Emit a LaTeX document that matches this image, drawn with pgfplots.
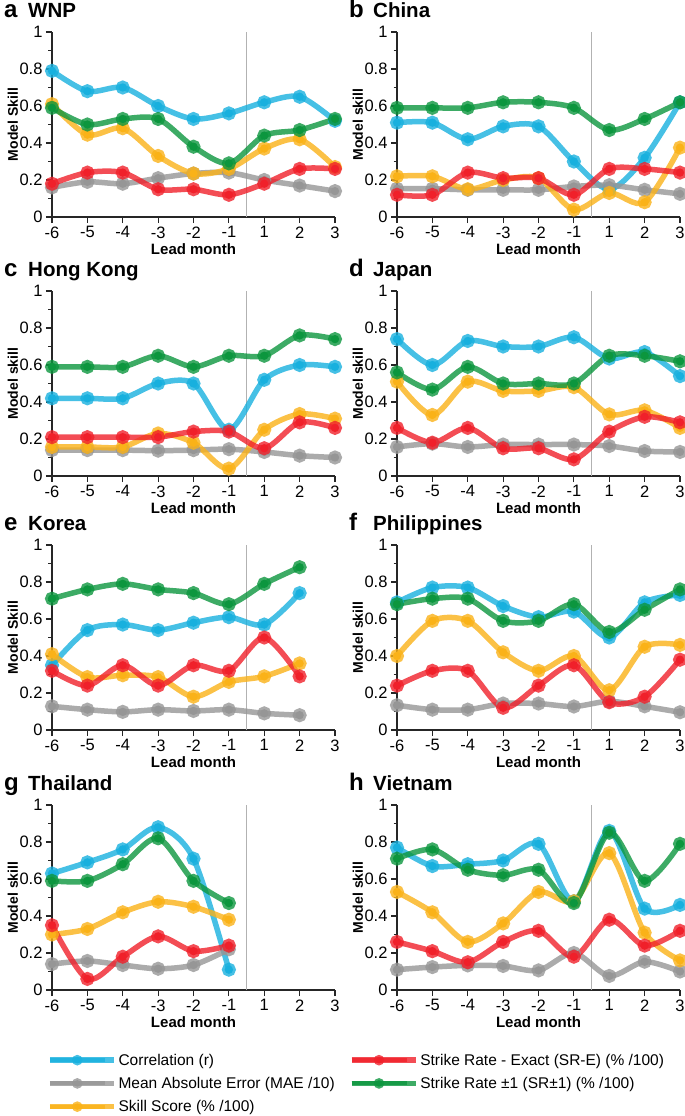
\documentclass[border=0pt]{standalone}
\usepackage{fontspec}
\setmainfont{Liberation Sans}
\usepackage{pgfplots}
\usepackage{pgfplotstable}
\pgfplotsset{compat=1.18}

\definecolor{ccorr}{RGB}{24,176,222}
\definecolor{cmae}{RGB}{150,150,150}
\definecolor{css}{RGB}{250,178,24}
\definecolor{csre}{RGB}{240,32,42}
\definecolor{csr1}{RGB}{12,150,62}

\pgfplotstableread{
x corr mae ss sre sr1
0 0.79 0.16 0.61 0.18 0.59
1 0.68 0.19 0.445 0.24 0.50
2 0.70 0.18 0.48 0.24 0.53
3 0.60 0.21 0.33 0.15 0.53
4 0.53 0.235 0.235 0.15 0.38
5 0.56 0.24 0.26 0.12 0.29
6 0.62 0.20 0.37 0.18 0.44
7 0.65 0.17 0.42 0.26 0.47
8 0.52 0.14 0.27 0.26 0.53
}\tWNP
\pgfplotstableread{
x corr mae ss sre sr1
0 0.51 0.153 0.22 0.12 0.59
1 0.51 0.153 0.22 0.12 0.59
2 0.42 0.147 0.15 0.24 0.59
3 0.49 0.147 0.20 0.21 0.62
4 0.49 0.147 0.21 0.21 0.62
5 0.30 0.165 0.04 0.12 0.59
6 0.15 0.172 0.13 0.26 0.47
7 0.32 0.147 0.08 0.26 0.53
8 0.62 0.125 0.375 0.24 0.62
}\tChina
\pgfplotstableread{
x corr mae ss sre sr1
0 0.42 0.14 0.157 0.21 0.59
1 0.42 0.14 0.157 0.21 0.59
2 0.42 0.14 0.157 0.21 0.59
3 0.50 0.137 0.23 0.21 0.65
4 0.50 0.14 0.18 0.24 0.59
5 0.25 0.145 0.04 0.24 0.65
6 0.52 0.13 0.25 0.15 0.65
7 0.60 0.11 0.335 0.29 0.76
8 0.59 0.10 0.31 0.26 0.74
}\tHK
\pgfplotstableread{
x corr mae ss sre sr1
0 0.74 0.157 0.51 0.26 0.56
1 0.60 0.175 0.33 0.18 0.467
2 0.73 0.157 0.51 0.26 0.59
3 0.70 0.17 0.46 0.15 0.50
4 0.70 0.17 0.46 0.15 0.50
5 0.75 0.17 0.48 0.09 0.50
6 0.635 0.162 0.333 0.24 0.65
7 0.67 0.135 0.355 0.32 0.65
8 0.54 0.13 0.26 0.29 0.62
}\tJapan
\pgfplotstableread{
x corr mae ss sre sr1
0 0.35 0.128 0.41 0.32 0.71
1 0.54 0.11 0.286 0.24 0.76
2 0.57 0.098 0.296 0.35 0.79
3 0.54 0.11 0.286 0.24 0.76
4 0.58 0.103 0.18 0.35 0.74
5 0.61 0.11 0.26 0.32 0.68
6 0.57 0.09 0.29 0.50 0.79
7 0.74 0.08 0.36 0.29 0.88
}\tKorea
\pgfplotstableread{
x corr mae ss sre sr1
0 0.69 0.134 0.40 0.24 0.68
1 0.77 0.11 0.59 0.32 0.71
2 0.77 0.11 0.59 0.32 0.71
3 0.67 0.143 0.42 0.12 0.59
4 0.61 0.143 0.32 0.24 0.59
5 0.64 0.127 0.40 0.35 0.68
6 0.50 0.155 0.215 0.15 0.53
7 0.69 0.128 0.45 0.18 0.65
8 0.73 0.096 0.46 0.38 0.76
}\tPhil
\pgfplotstableread{
x corr mae ss sre sr1
0 0.63 0.14 0.30 0.35 0.59
1 0.69 0.157 0.33 0.06 0.59
2 0.76 0.135 0.42 0.18 0.68
3 0.88 0.115 0.477 0.29 0.82
4 0.71 0.135 0.45 0.21 0.59
5 0.11 0.22 0.38 0.24 0.47
}\tThai
\pgfplotstableread{
x corr mae ss sre sr1
0 0.77 0.11 0.53 0.26 0.71
1 0.67 0.124 0.42 0.21 0.76
2 0.68 0.133 0.26 0.15 0.65
3 0.70 0.13 0.36 0.26 0.62
4 0.79 0.106 0.53 0.32 0.65
5 0.48 0.20 0.48 0.18 0.47
6 0.86 0.076 0.74 0.38 0.85
7 0.44 0.153 0.31 0.24 0.59
8 0.46 0.10 0.16 0.32 0.79
}\tViet

\pgfplotsset{
 ser/.style={color=#1, smooth, tension=0.5, line width=5.5pt, draw opacity=0.8,
   mark=*, mark size=4.2pt, mark options={solid, draw=none, fill=#1, fill opacity=1}},
 base/.style={scale only axis, width=283pt, height=185pt, anchor=south west,
   xmin=0, xmax=8, ymin=0, ymax=1, clip=false,
   axis lines=left, axis line style={-, line width=1.2pt, black!85},
   xtick={0,...,8}, xticklabels={-6,-5,-4,-3,-2,-1,1,2,3},
   ytick={0,0.2,0.4,0.6,0.8,1}, yticklabels={0,0.2,0.4,0.6,0.8,1},
   minor ytick={0.1,0.3,0.5,0.7,0.9},
   tick align=outside, major tick length=6pt, minor tick length=3.5pt,
   tick style={line width=1.2pt, black!85},
   /pgf/number format/assume math mode=true,
   tick label style={font=\fontsize{16.5}{18}\selectfont},
   xlabel={Lead month},
   xlabel style={font=\bfseries\fontsize{15}{17}\selectfont, at={(axis description cs:0.5,-0.172)}, anchor=center},
   ylabel style={font=\bfseries\fontsize{14}{16}\selectfont, at={(axis description cs:-0.138,0.5)}, anchor=center, rotate=0},
 },
}

\newcommand\panel[6]{%
\begin{axis}[base, at={(#1pt,-#2pt)}, ylabel={#5}]
\draw[line width=1pt, black!30] (axis cs:5.5,0) -- (axis cs:5.5,1);
\addplot[ser=ccorr] table[x=x,y=corr]{#6};
\addplot[ser=cmae] table[x=x,y=mae]{#6};
\addplot[ser=css] table[x=x,y=ss]{#6};
\addplot[ser=csre] table[x=x,y=sre]{#6};
\addplot[ser=csr1] table[x=x,y=sr1]{#6};
\node[anchor=base west, inner sep=0pt, xshift=-48pt, yshift=15pt, font=\bfseries\fontsize{24}{26}\selectfont] at (rel axis cs:0,1) {#3};
\node[anchor=base west, inner sep=0pt, xshift=-24pt, yshift=15pt, font=\bfseries\fontsize{20.5}{22}\selectfont] at (rel axis cs:0,1) {#4};
\end{axis}}

\begin{document}
\begin{tikzpicture}
\useasboundingbox (0pt,0pt) rectangle (685pt,-1116pt);
\panel{52}{217}{a}{WNP}{Model Skill}{\tWNP}
\panel{397}{217}{b}{China}{Model skill}{\tChina}
\panel{52}{476}{c}{Hong Kong}{Model skill}{\tHK}
\panel{397}{476}{d}{Japan}{Model skill}{\tJapan}
\panel{52}{730}{e}{Korea}{Model Skill}{\tKorea}
\panel{397}{730}{f}{Philippines}{Model skill}{\tPhil}
\panel{52}{990}{g}{Thailand}{Model skill}{\tThai}
\panel{397}{990}{h}{Vietnam}{Model skill}{\tViet}

\begin{axis}[hide axis, scale only axis, width=685pt, height=80pt,
  at={(0pt,-1116pt)}, anchor=south west, xmin=0, xmax=1, ymin=0, ymax=1,
  legend columns=2, legend cell align=left,
  legend image code/.code={\path (0pt,0pt) -- (64pt,0pt);\draw[mark repeat=2,mark phase=2,#1, line width=4pt, mark size=3.2pt] plot coordinates {(0pt,0pt) (27.5pt,0pt) (55pt,0pt)};},
  legend style={draw=none, fill=none, at={(0.064,0.83)}, anchor=north west,
    font=\fontsize{15.5}{17}\selectfont, row sep=6.5pt,
    /tikz/every even column/.append style={column sep=12pt}}]
\addlegendimage{ser=ccorr}\addlegendentry{Correlation (r)}
\addlegendimage{ser=csre}\addlegendentry{Strike Rate - Exact (SR-E) (\% /100)}
\addlegendimage{ser=cmae}\addlegendentry{Mean Absolute Error (MAE /10)}
\addlegendimage{ser=csr1}\addlegendentry{Strike Rate ±1 (SR±1) (\% /100)}
\addlegendimage{ser=css}\addlegendentry{Skill Score (\% /100)}
\end{axis}
\end{tikzpicture}
\end{document}
